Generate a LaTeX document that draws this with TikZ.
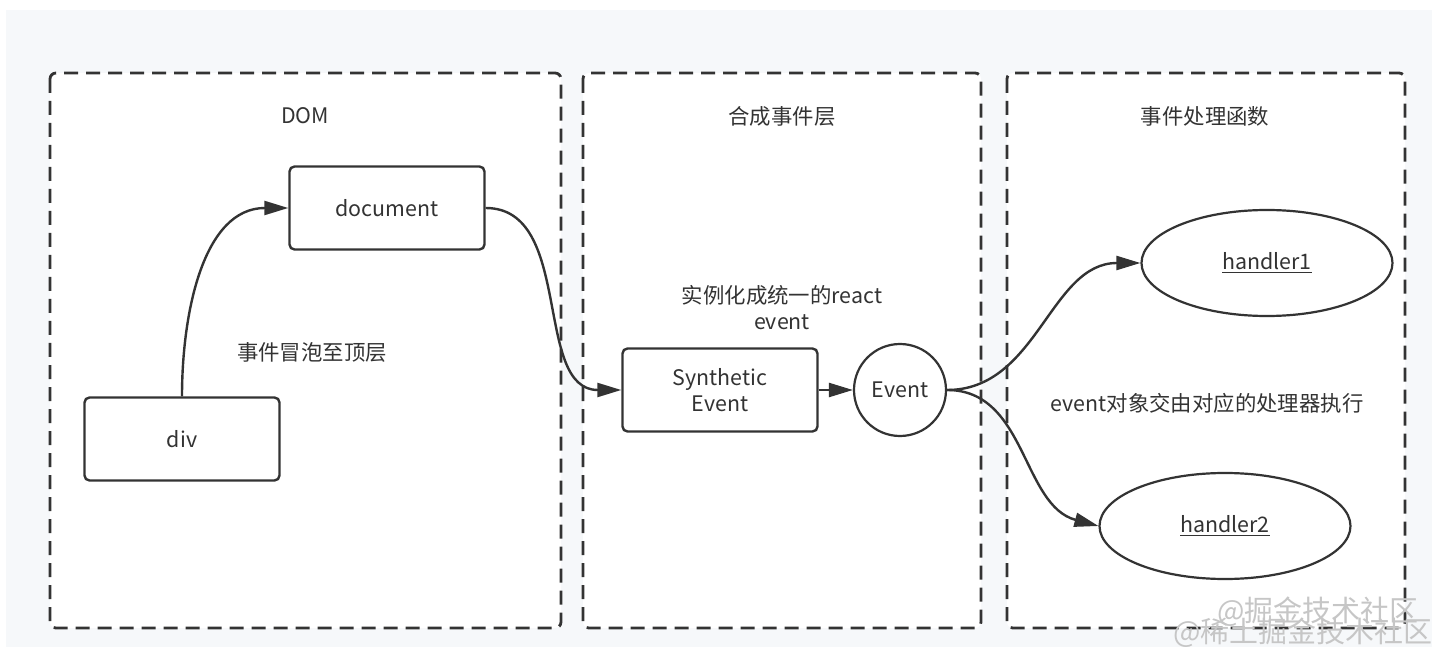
\documentclass[tikz,border=0pt]{standalone}
\usepackage{fontspec}
\setmainfont{Noto Sans CJK SC}
\usetikzlibrary{shapes.geometric,arrows.meta}
\definecolor{ink}{HTML}{333333}
\definecolor{pagebg}{HTML}{F6F8FA}
\begin{document}
\begin{tikzpicture}[x=0.5pt,y=-0.5pt,font=\fontsize{10.7}{13}\selectfont,
  layer/.style={draw=ink,line width=1.4pt,dash pattern=on 7pt off 4pt,rounded corners=3pt,fill=white},
  box/.style={draw=ink,line width=1.2pt,rounded corners=2.5pt,fill=white,text=ink,align=center,
    minimum width=97.5pt,minimum height=41.5pt},
  circ/.style={draw=ink,line width=1.1pt,circle,fill=white,text=ink,minimum size=46pt,inner sep=0pt},
  oval/.style={draw=ink,line width=1.1pt,ellipse,fill=white,text=ink,minimum width=125.5pt,minimum height=53pt},
  caption/.style={text=ink,align=center},
  flow/.style={draw=ink,line width=1.2pt,-{Triangle[length=12pt,width=7pt]}},
  watermark/.style={text=gray!45,font=\fontsize{14.5}{14.5}\selectfont}]

  \useasboundingbox (0,0) rectangle (1432,647);
  \fill[pagebg] (6,10) rectangle (1432,647);

  % the three layers
  \draw[layer] (50,73) rectangle (561,628);
  \draw[layer] (583,73) rectangle (981,628);
  \draw[layer] (1007,73) rectangle (1405,628);

  \node[caption] (domtitle) at (305,116) {DOM};
  \node[caption] (synthtitle) at (782,116) {合成事件层};
  \node[caption] (handlertitle) at (1205,116) {事件处理函数};

  \node[box] (div) at (182,439) {div};
  \node[box] (document) at (387,208) {document};
  \node[box] (synth) at (720,390) {Synthetic\\Event};
  \node[circ] (event) at (900,390) {Event};
  \node[oval] (handler1) at (1267,263) {\underline{handler1}};
  \node[oval] (handler2) at (1225,526) {\underline{handler2}};

  \node[caption] (bubble) at (312,352) {事件冒泡至顶层};
  \node[caption] (instance) at (782,308) {实例化成统一的react\\event};
  \node[caption] (dispatch) at (1207,403) {event对象交由对应的处理器执行};

  \draw[flow] (div.north) to[out=90,in=180] (document.west);
  \draw[flow] (document.east) to[out=0,in=180] (synth.west);
  \draw[flow] (synth.east) -- (event.west);
  \draw[flow] (event.east) to[out=0,in=180] (handler1.west);
  \draw[flow] (event.east) to[out=0,in=165] (handler2.west);

  % watermark
  \node[watermark] (mark1) at (1318,612) {@掘金技术社区};
  \node[watermark] (mark2) at (1303,633) {@稀土掘金技术社区};

\end{tikzpicture}
\end{document}
